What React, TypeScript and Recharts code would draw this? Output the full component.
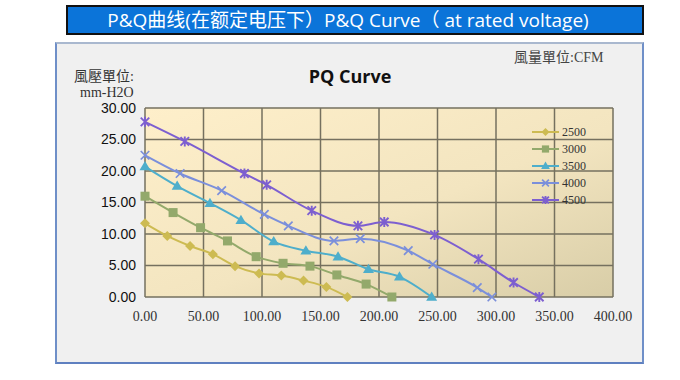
import React from "react";
import { LineChart, Line, XAxis, YAxis, CartesianGrid } from "recharts";

// airflow (CFM) / pressure (mm-H2O) pairs
const q2500 = [0, 19, 38.5, 58, 77, 97.5, 116.5, 135.5, 155, 173];
const p2500 = [11.7, 9.7, 8.1, 6.8, 4.9, 3.75, 3.4, 2.6, 1.6, 0];
const q3000 = [0, 24, 47.5, 70.5, 95, 118, 141, 164, 189, 211];
const p3000 = [16.0, 13.4, 11.0, 8.9, 6.4, 5.35, 4.9, 3.5, 2.05, 0];
const q3500 = [0, 27.5, 55.5, 82, 110, 137.5, 165, 191, 217.5, 245];
const p3500 = [20.7, 17.6, 14.9, 12.2, 8.8, 7.35, 6.4, 4.4, 3.2, 0];
const q4000 = [0, 30, 65.5, 102, 122.5, 161.5, 184, 225, 246, 284, 296.5];
const p4000 = [22.5, 19.6, 16.9, 13.1, 11.3, 8.9, 9.25, 7.35, 5.2, 1.5, 0];
const q4500 = [0, 34, 85, 104, 142.5, 182, 204.5, 247.5, 285, 315, 337];
const p4500 = [27.8, 24.7, 19.6, 17.8, 13.7, 11.3, 11.9, 9.85, 6.0, 2.3, 0];

const xTicks = [0, 50, 100, 150, 200, 250, 300, 350, 400];
const yTicks = [0, 5, 10, 15, 20, 25, 30];

const toPoints = (q: number[], p: number[]) => q.map((v, i) => ({ q: v, p: p[i] }));

const series = [
  { name: "2500", color: "#cdbb52", marker: "diamond", data: toPoints(q2500, p2500) },
  { name: "3000", color: "#93a96b", marker: "square", data: toPoints(q3000, p3000) },
  { name: "3500", color: "#4eaecb", marker: "triangle", data: toPoints(q3500, p3500) },
  { name: "4000", color: "#7b8fdb", marker: "cross", data: toPoints(q4000, p4000) },
  { name: "4500", color: "#7d5fd0", marker: "star", data: toPoints(q4500, p4500) },
];

function Marker({ cx, cy, kind, color, s = 1 }: any) {
  if (cx == null || cy == null) return null;
  const r = 5 * s;
  switch (kind) {
    case "diamond":
      return <path d={`M${cx},${cy - r}L${cx + r},${cy}L${cx},${cy + r}L${cx - r},${cy}Z`} fill={color} />;
    case "square":
      return <rect x={cx - r * 0.9} y={cy - r * 0.9} width={r * 1.8} height={r * 1.8} fill={color} />;
    case "triangle":
      return <path d={`M${cx},${cy - r * 1.1}L${cx + r * 1.1},${cy + r * 0.75}L${cx - r * 1.1},${cy + r * 0.75}Z`} fill={color} />;
    case "cross":
      return (
        <path
          d={`M${cx - r * 0.85},${cy - r * 0.85}L${cx + r * 0.85},${cy + r * 0.85}M${cx - r * 0.85},${cy + r * 0.85}L${cx + r * 0.85},${cy - r * 0.85}`}
          stroke={color}
          strokeWidth={1.7}
        />
      );
    default:
      return (
        <path
          d={`M${cx - r * 0.85},${cy - r * 0.85}L${cx + r * 0.85},${cy + r * 0.85}M${cx - r * 0.85},${cy + r * 0.85}L${cx + r * 0.85},${cy - r * 0.85}M${cx},${cy - r}L${cx},${cy + r}`}
          stroke={color}
          strokeWidth={1.9}
        />
      );
  }
}

const serif = "'Liberation Serif', 'Noto Sans CJK TC', serif";

export default function App() {
  return (
    <div
      style={{
        position: "absolute",
        left: 0,
        top: 0,
        width: 680,
        height: 380,
        background: "#fff",
        overflow: "hidden",
      }}
    >
      {/* title bar */}
      <div
        style={{
          position: "absolute",
          left: 66,
          top: 5,
          width: 578,
          height: 30,
          boxSizing: "border-box",
          background: "#0b74d9",
          border: "2px solid #111",
          color: "#fff",
          fontFamily: "'Open Sans', 'Noto Sans CJK SC', sans-serif",
          fontSize: 19,
          lineHeight: "26px",
          textAlign: "center",
          paddingRight: 14,
          whiteSpace: "nowrap",
        }}
      >
        P&amp;Q曲线(在额定电压下）P&amp;Q Curve（ at rated voltage)
      </div>

      {/* chart panel */}
      <div
        style={{
          position: "absolute",
          left: 55,
          top: 42,
          width: 585,
          height: 318,
          background: "#f0f0f0",
          borderTop: "2px solid #a9b8cf",
          borderLeft: "2px solid #6f8fc8",
          borderRight: "2px solid #6f8fc8",
          borderBottom: "2px solid #5f80c0",
        }}
      />

      <div
        style={{
          position: "absolute",
          left: 0,
          top: 64,
          width: 680,
          textAlign: "center",
          fontFamily: "'Open Sans', sans-serif",
          fontWeight: 700,
          fontSize: 18,
          color: "#111",
          paddingLeft: 20,
          boxSizing: "border-box",
        }}
      >
        PQ Curve
      </div>
      <div style={{ position: "absolute", left: 74, top: 65, fontFamily: serif, fontSize: 14, color: "#333" }}>
        風壓單位:
      </div>
      <div style={{ position: "absolute", left: 80, top: 85, fontFamily: serif, fontSize: 14, color: "#333" }}>
        mm-H2O
      </div>
      <div style={{ position: "absolute", left: 514, top: 46, fontFamily: serif, fontSize: 14, color: "#444" }}>
        風量單位:CFM
      </div>

      <div style={{ position: "absolute", left: 0, top: 0 }}>
        <LineChart width={680} height={380} margin={{ top: 108, right: 67, bottom: 53, left: 85 }}>
          <defs>
            <linearGradient id="plotBg" x1="0" y1="0" x2="1" y2="1">
              <stop offset="0%" stopColor="#feefca" />
              <stop offset="55%" stopColor="#f3e5c0" />
              <stop offset="100%" stopColor="#d8cda7" />
            </linearGradient>
          </defs>
          <CartesianGrid
            fill="url(#plotBg)"
            fillOpacity={1}
            stroke="#75705f"
            strokeWidth={1.5}
            horizontalValues={yTicks}
            verticalValues={xTicks}
          />
          <XAxis
            type="number"
            dataKey="q"
            domain={[0, 400]}
            ticks={xTicks}
            interval={0}
            allowDuplicatedCategory={false}
            height={30}
            axisLine={false}
            tickLine={false}
            tickMargin={8}
            tickFormatter={(v: number) => v.toFixed(2)}
            tick={{ fontFamily: serif, fontSize: 14, fill: "#333" }}
          />
          <YAxis
            type="number"
            dataKey="p"
            domain={[0, 30]}
            ticks={yTicks}
            interval={0}
            width={60}
            axisLine={false}
            tickLine={false}
            tickMargin={3}
            tickFormatter={(v: number) => v.toFixed(2)}
            tick={{ fontFamily: "'Liberation Sans', sans-serif", fontSize: 14, fill: "#111", fontWeight: 500 }}
          />
          {series.map((s) => (
            <Line
              key={s.name}
              data={s.data}
              dataKey="p"
              name={s.name}
              type="monotone"
              stroke={s.color}
              strokeWidth={2}
              isAnimationActive={false}
              dot={(props: any) => (
                <Marker key={`${s.name}-${props.index}`} cx={props.cx} cy={props.cy} kind={s.marker} color={s.color} />
              )}
              activeDot={false}
            />
          ))}
        </LineChart>
      </div>

      {/* legend */}
      <svg style={{ position: "absolute", left: 528, top: 124 }} width={80} height={84}>
        {series.map((s, i) => {
          const y = 8 + i * 17;
          return (
            <g key={s.name}>
              <line x1={4} x2={31} y1={y} y2={y} stroke={s.color} strokeWidth={2} />
              <Marker cx={17.5} cy={y} kind={s.marker} color={s.color} s={0.8} />
              <text x={34} y={y + 4} fontFamily={serif} fontSize={12} fill="#333">
                {s.name}
              </text>
            </g>
          );
        })}
      </svg>
    </div>
  );
}
